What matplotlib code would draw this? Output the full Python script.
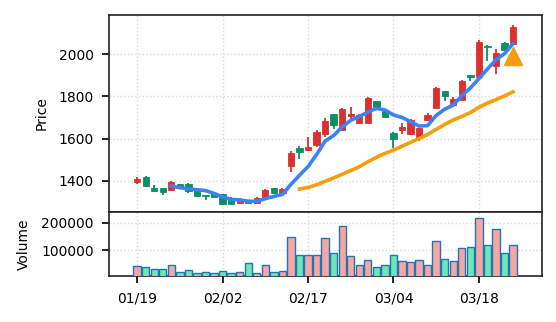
import numpy as np
import pandas as pd
import matplotlib
matplotlib.use("Agg")
import matplotlib.pyplot as plt

# daily OHLC, 01/19 .. 03/24
opens = [1395, 1418, 1365, 1364, 1354, 1383, 1386, 1358, 1332, 1338,
         1335, 1318, 1292, 1306, 1296, 1319, 1364, 1343, 1468, 1554,
         1545, 1570, 1623, 1716, 1642, 1706, 1676, 1676, 1776, 1732,
         1628, 1640, 1621, 1606, 1690, 1746, 1826, 1760, 1784, 1902,
         1893, 2041, 1946, 2054, 2050]
highs = [1419, 1420, 1379, 1366, 1399, 1386, 1388, 1360, 1334, 1340,
         1337, 1320, 1318, 1310, 1321, 1360, 1367, 1366, 1540, 1565,
         1606, 1640, 1696, 1718, 1745, 1748, 1718, 1797, 1778, 1735,
         1632, 1674, 1694, 1652, 1720, 1844, 1828, 1795, 1880, 1904,
         2069, 2046, 2024, 2057, 2141]
lows = [1383, 1372, 1347, 1333, 1350, 1366, 1343, 1324, 1310, 1316,
        1286, 1288, 1289, 1292, 1294, 1317, 1335, 1340, 1443, 1505,
        1543, 1562, 1608, 1645, 1640, 1690, 1672, 1674, 1735, 1698,
        1557, 1622, 1618, 1588, 1685, 1744, 1778, 1757, 1781, 1871,
        1890, 1967, 1905, 2018, 2048]
closes = [1410, 1375, 1350, 1345, 1392, 1370, 1350, 1326, 1326, 1324,
          1288, 1290, 1314, 1296, 1318, 1354, 1343, 1362, 1533, 1535,
          1560, 1629, 1682, 1665, 1740, 1718, 1714, 1794, 1750, 1702,
          1600, 1656, 1690, 1648, 1713, 1841, 1804, 1787, 1874, 1894,
          2060, 2035, 2005, 2021, 2132]
volumes = [43600, 40000, 31500, 31500, 47200, 18300, 27900, 17100, 21900, 14700,
           25500, 14700, 18300, 54400, 14700, 47200, 20700, 25500, 148000, 83300,
           83300, 83300, 144600, 90500, 188000, 77300, 47200, 65200, 40000, 44800,
           83300, 61600, 58000, 65200, 47200, 133800, 68800, 61600, 108500, 112000,
           216800, 119400, 177100, 90500, 119400]

tick_pos = [0, 10, 20, 30, 40]
tick_labels = ["01/19", "02/02", "02/17", "03/04", "03/18"]

# buy signal
signal_idx = [44]
signal_price = [1990]

df = pd.DataFrame({"open": opens, "high": highs, "low": lows,
                   "close": closes, "volume": volumes})
df["ma5"] = df["close"].rolling(5).mean()
df["ma20"] = df["close"].rolling(20).mean()
x = np.arange(len(df))
up = df["close"] >= df["open"]

UP_C, DOWN_C = "#dc2f2f", "#0b8f63"
VUP_C, VDOWN_C = "#f7a6a6", "#6ee6b5"

plt.rcParams["font.size"] = 10
fig, (ax, axv) = plt.subplots(2, 1, figsize=(5.56, 3.22), dpi=100, sharex=True,
                              gridspec_kw={"height_ratios": [3.05, 1], "hspace": 0})
fig.subplots_adjust(left=0.196, right=0.975, top=0.953, bottom=0.142)

colors = np.where(up, UP_C, DOWN_C)
ax.vlines(x, df["low"], df["high"], colors=colors, linewidth=1.3, zorder=2)
ax.bar(x, df["close"] - df["open"], bottom=df["open"], width=0.74,
       color=colors, edgecolor=colors, linewidth=0.6, zorder=3)

ax.plot(x, df["ma5"], color="#3b82f6", linewidth=2.6, zorder=4)
ax.plot(x, df["ma20"], color="#f59e0b", linewidth=2.6, zorder=4)
ax.plot(signal_idx, signal_price, marker="^", markersize=13, color="#f59e0b",
        linestyle="none", zorder=5)

vcolors = np.where(up, VUP_C, VDOWN_C)
axv.bar(x, df["volume"], width=0.86, color=vcolors, edgecolor="#1f77b4",
        linewidth=1.0, zorder=3)

ax.set_xlim(-3.3, 47.4)
ax.set_ylim(1252, 2186)
ax.set_yticks([1400, 1600, 1800, 2000])
axv.set_ylim(0.3 * min(volumes), 1.11 * max(volumes))
axv.set_yticks([100000, 200000])
axv.ticklabel_format(axis="y", style="plain")
axv.set_xticks(tick_pos)
axv.set_xticklabels(tick_labels)

ax.set_ylabel("Price", labelpad=7)
axv.set_ylabel("Volume", labelpad=7)

for a in (ax, axv):
    a.grid(True, color="#d8d8d8", linestyle=":", linewidth=1.0, zorder=0)
    a.set_axisbelow(True)
    for s in a.spines.values():
        s.set_linewidth(1.2)
        s.set_color("#222222")
    a.tick_params(axis="y", length=5, width=1.2, pad=6)
ax.tick_params(axis="x", length=0, labelbottom=False)
axv.tick_params(axis="x", length=5, width=1.2, pad=6)

fig.savefig("out.png", dpi=100)
